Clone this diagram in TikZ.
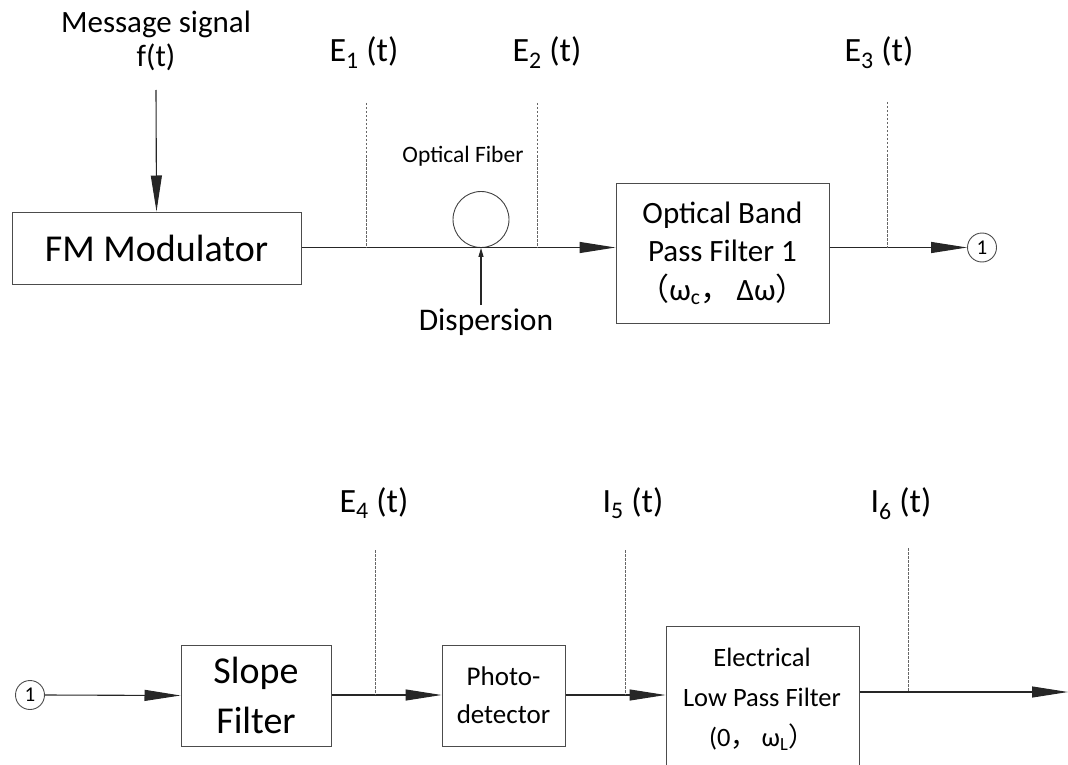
\documentclass[tikz,border=0pt]{standalone}
\usepackage{fontspec}
\setmainfont{Carlito}
\newfontfamily\cjk{Noto Sans CJK SC}
\usetikzlibrary{arrows.meta}
\begin{document}
\begin{tikzpicture}[x=1pt,y=-1pt,
  box/.style={draw=black!70,line width=1pt,align=center,inner sep=0pt},
  conn/.style={draw=black!85,line width=1.1pt},
  arr/.style={conn,-{Triangle[length=36pt,width=11pt]}},
  smallarr/.style={conn,-{Triangle[length=9pt,width=5pt]}},
  probe/.style={draw=black!60,line width=0.6pt,dash pattern=on 2.5pt off 1.5pt},
  sig/.style={font=\fontsize{34}{40}\selectfont,anchor=base,inner sep=0pt},
  big/.style={font=\fontsize{38}{48}\selectfont,align=center},
  circ/.style={circle,draw=black!70,line width=0.9pt,minimum size=29pt,inner sep=0pt,font=\fontsize{21}{21}\selectfont},
]
\useasboundingbox (0,0) rectangle (1068,765);

% ---------------- top row ----------------
\node[font=\fontsize{31}{36}\selectfont,anchor=base,inner sep=0pt] (msg) at (156,33) {Message signal};
\node[font=\fontsize{31}{36}\selectfont,anchor=base,inner sep=0pt] (msgf) at (156,67) {f(t)};
\coordinate (msgtail) at (156,90);

\node[box,big,minimum width=289pt,minimum height=72pt] (fm) at (156.5,248) {FM Modulator};

\node[circle,draw=black!75,line width=0.9pt,minimum size=56pt,inner sep=0pt] (fib) at (481,219.5) {};
\node[font=\fontsize{23.5}{26}\selectfont,anchor=base,inner sep=0pt] (fibl) at (463,163) {Optical Fiber};
\node[font=\fontsize{31.5}{36}\selectfont,anchor=base,inner sep=0pt] (disp) at (486,330) {Dispersion};
\coordinate (disptail) at (481,305);

\node[box,font=\fontsize{31}{38.5}\selectfont,minimum width=213pt,minimum height=140pt] (bpf) at (722.5,253)
  {Optical Band\\Pass Filter 1\\{\cjk （}ω\textsubscript{c}{\cjk ，}\,Δω{\cjk ）}};

\node[circ] (c1) at (982,247.5) {1};

\coordinate (p1) at (366,247.5); \coordinate (p1t) at (366,103);
\coordinate (p2) at (537,247.5); \coordinate (p2t) at (537,103);
\coordinate (p3) at (887,247.5); \coordinate (p3t) at (887,102);
\node[sig] (e1) at (364,62) {E\textsubscript{1} (t)};
\node[sig] (e2) at (547,62) {E\textsubscript{2} (t)};
\node[sig] (e3) at (879,62) {E\textsubscript{3} (t)};

\draw[arr] (msgtail) -- (fm.north);
\draw[conn] (fm.east |- p1) -- (p1);
\draw[arr] (p1) -- (p1 -| bpf.west);
\draw[smallarr] (disptail) -- (fib.south);
\draw[arr] (bpf.east |- p3) -- (c1.west);
\draw[probe] (p1t) -- (p1);
\draw[probe] (p2t) -- (p2);
\draw[probe] (p3t) -- (p3);

% ---------------- bottom row ----------------
\node[circ] (c1b) at (30,695) {1};
\node[box,big,minimum width=150pt,minimum height=101pt] (slope) at (256,695.5) {Slope\\[2pt]Filter};
\node[box,font=\fontsize{27}{38}\selectfont,minimum width=123pt,minimum height=101pt] (photo) at (503.5,695.5) {Photo-\\detector};
\node[box,minimum width=193pt,minimum height=180pt] (lpf) at (762.5,716) {};
\node[font=\fontsize{26.5}{40}\selectfont,align=center,inner sep=0pt] (lpft) at (762,699)
  {Electrical\\Low Pass Filter\\(0{\cjk ，}\,ω\textsubscript{L}{\cjk ）}};

\coordinate (p4) at (375,695); \coordinate (p4t) at (375,550);
\coordinate (p5) at (625,695); \coordinate (p5t) at (625,550);
\coordinate (p6) at (908,692); \coordinate (p6t) at (908,548);
\coordinate (out) at (1068,692);
\node[sig] (e4) at (374,512) {E\textsubscript{4} (t)};
\node[sig] (i5) at (633,512) {I\textsubscript{5} (t)};
\node[sig] (i6) at (901,512) {I\textsubscript{6} (t)};

\draw[arr] (c1b.east) -- (slope.west);
\draw[arr] (slope.east |- p4) -- (p4 -| photo.west);
\draw[arr] (photo.east |- p5) -- (p5 -| lpf.west);
\draw[arr] (lpf.east |- p6) -- (out);
\draw[probe] (p4t) -- (p4);
\draw[probe] (p5t) -- (p5);
\draw[probe] (p6t) -- (p6);
\end{tikzpicture}
\end{document}
